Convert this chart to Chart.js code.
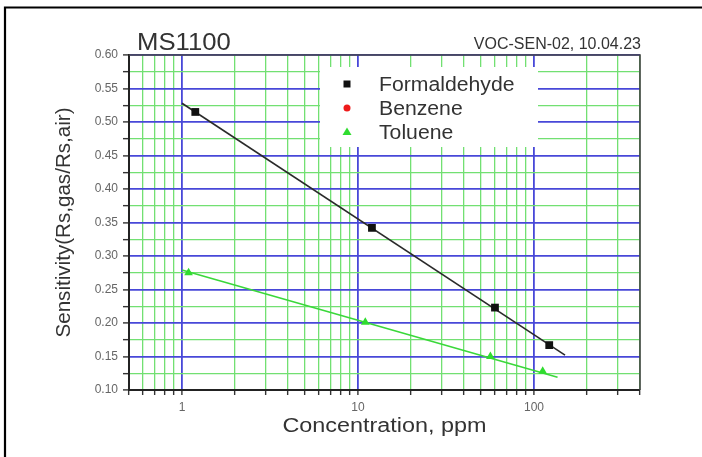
<!DOCTYPE html>
<html>
<head>
<meta charset="utf-8">
<script src="https://cdn.jsdelivr.net/npm/chart.js@4"></script>
<style>
  body { margin: 0; background: #fff; }
  canvas { display: block; }
</style>
</head>
<body>
<canvas id="sensChart" width="702" height="457"></canvas>
<script>
// measured points
const formConc = [1.19, 12.0, 60, 122];
const formSens = [0.515, 0.342, 0.223, 0.167];
const benzConc = [];
const benzSens = [];
const tolConc = [1.09, 11.0, 56.5, 112];
const tolSens = [0.275, 0.201, 0.150, 0.128];

// fitted lines (ends)
const formFitConc = [1, 150];
const formFitSens = [0.528, 0.152];
const tolFitConc = [1, 136];
const tolFitSens = [0.279, 0.119];

const xTickLabels = ["1", "10", "100"];
const yTickLabels = ["0.10", "0.15", "0.20", "0.25", "0.30", "0.35", "0.40", "0.45", "0.50", "0.55", "0.60"];

const X_MIN = 0.5, X_MAX = 400;
const BLUE = "#4848d8";
const GREEN = "#72e072";
const FONT = "'Liberation Sans', Arial, sans-serif";

function pts(xs, ys) {
  return xs.map((x, i) => ({ x: x, y: ys[i] }));
}

function xTickValues() {
  const out = [];
  for (let d = 0.1; d <= 100; d *= 10) {
    for (let m = 1; m <= 9; m++) {
      const v = Math.round(m * d * 1000) / 1000;
      if (v >= X_MIN && v <= X_MAX) out.push(v);
    }
  }
  return out;
}

function yTickValues() {
  const major = yTickLabels.map(Number);
  const out = [];
  major.forEach((v, i) => {
    out.push(v);
    if (i < major.length - 1) out.push((v + major[i + 1]) / 2);
  });
  return out;
}

function isXMajor(v) { return xTickLabels.includes(String(v)); }
function yLabelFor(v) {
  const hit = yTickLabels.find(s => Math.abs(Number(s) - v) < 1e-9);
  return hit || "";
}

const decor = {
  id: "decor",
  afterDatasetsDraw(chart) {
    const ctx = chart.ctx;
    const a = chart.chartArea;
    ctx.save();
    // top + right frame of the plot
    ctx.strokeStyle = "#444";
    ctx.lineWidth = 1.6;
    ctx.beginPath();
    ctx.moveTo(a.left, a.top);
    ctx.lineTo(a.right, a.top);
    ctx.lineTo(a.right, a.bottom);
    ctx.stroke();

    // legend box
    ctx.fillStyle = "#fff";
    ctx.fillRect(320, 67, 218, 80);
    const items = chart.data.datasets.filter(d => !d.fitLine);
    ctx.font = "20px " + FONT;
    ctx.textBaseline = "middle";
    items.forEach((d, i) => {
      const cy = 84 + i * 24;
      const cx = 347;
      ctx.fillStyle = d.backgroundColor;
      ctx.beginPath();
      if (d.pointStyle === "rect") {
        ctx.rect(cx - 3.5, cy - 3.5, 7, 7);
      } else if (d.pointStyle === "circle") {
        ctx.arc(cx, cy, 3.5, 0, Math.PI * 2);
      } else {
        ctx.moveTo(cx, cy - 4.5);
        ctx.lineTo(cx + 4.5, cy + 3);
        ctx.lineTo(cx - 4.5, cy + 3);
        ctx.closePath();
      }
      ctx.fill();
      ctx.fillStyle = "#333";
      ctx.save();
      ctx.translate(379, cy + 1);
      ctx.scale(1.06, 1);
      ctx.fillText(d.label, 0, 0);
      ctx.restore();
    });
    ctx.restore();
  },
  afterDraw(chart) {
    const ctx = chart.ctx;
    const a = chart.chartArea;
    ctx.save();
    // outer frame, top and left only
    ctx.strokeStyle = "#000";
    ctx.lineWidth = 2.2;
    ctx.beginPath();
    ctx.moveTo(702, 7.5);
    ctx.lineTo(5, 7.5);
    ctx.lineTo(5, 457);
    ctx.stroke();

    ctx.fillStyle = "#333";
    ctx.textBaseline = "alphabetic";
    // header
    ctx.font = "24px " + FONT;
    ctx.textAlign = "left";
    ctx.save();
    ctx.translate(137, 50);
    ctx.scale(1.07, 1);
    ctx.fillText("MS1100", 0, 0);
    ctx.restore();
    ctx.font = "16px " + FONT;
    ctx.textAlign = "right";
    ctx.fillText("VOC-SEN-02, 10.04.23", 641, 49);

    // axis titles
    ctx.font = "20px " + FONT;
    ctx.textAlign = "center";
    ctx.save();
    ctx.translate((a.left + a.right) / 2, 432);
    ctx.scale(1.17, 1);
    ctx.fillText("Concentration, ppm", 0, 0);
    ctx.restore();

    ctx.save();
    ctx.translate(64, (a.top + a.bottom) / 2);
    ctx.rotate(-Math.PI / 2);
    ctx.scale(1.03, 1);
    ctx.textBaseline = "middle";
    ctx.fillText("Sensitivity(Rs,gas/Rs,air)", 0, 0);
    ctx.restore();
    ctx.restore();
  }
};

new Chart(document.getElementById("sensChart"), {
  type: "scatter",
  data: {
    datasets: [
      {
        label: "Formaldehyde",
        data: pts(formConc, formSens),
        pointStyle: "rect",
        pointRadius: 5.5,
        backgroundColor: "#111",
        borderColor: "#111",
        borderWidth: 0
      },
      {
        label: "Benzene",
        data: pts(benzConc, benzSens),
        pointStyle: "circle",
        pointRadius: 3.5,
        backgroundColor: "#ee1b1b",
        borderColor: "#ee1b1b"
      },
      {
        label: "Toluene",
        data: pts(tolConc, tolSens),
        pointStyle: "triangle",
        pointRadius: 5,
        backgroundColor: "#2fdc2f",
        borderColor: "#2fdc2f",
        borderWidth: 0
      },
      {
        label: "Formaldehyde fit",
        fitLine: true,
        data: pts(formFitConc, formFitSens),
        showLine: true,
        pointRadius: 0,
        borderColor: "#2a2a2a",
        borderWidth: 1.6
      },
      {
        label: "Toluene fit",
        fitLine: true,
        data: pts(tolFitConc, tolFitSens),
        showLine: true,
        pointRadius: 0,
        borderColor: "#3ad83a",
        borderWidth: 1.6
      }
    ]
  },
  options: {
    responsive: false,
    devicePixelRatio: 1,
    animation: false,
    layout: { padding: { top: 55, right: 62, bottom: 0, left: 0 } },
    plugins: {
      legend: { display: false },
      tooltip: { enabled: false }
    },
    scales: {
      x: {
        type: "logarithmic",
        min: X_MIN,
        max: X_MAX,
        afterBuildTicks: s => { s.ticks = xTickValues().map(v => ({ value: v })); },
        afterFit: s => { s.height = 67; },
        border: { display: true, color: "#222", width: 2 },
        grid: {
          color: c => isXMajor(c.tick.value) ? BLUE : GREEN,
          lineWidth: c => isXMajor(c.tick.value) ? 1.8 : 1.3,
          tickColor: "#333",
          tickLength: 5,
          tickWidth: 1.4
        },
        ticks: {
          autoSkip: false,
          maxRotation: 0,
          padding: 5,
          color: "#666",
          font: { family: FONT, size: 12 },
          callback: v => isXMajor(v) ? String(v) : ""
        }
      },
      y: {
        min: 0.1,
        max: 0.6,
        afterBuildTicks: s => { s.ticks = yTickValues().map(v => ({ value: v })); },
        afterFit: s => { s.width = 129; },
        border: { display: true, color: "#222", width: 2 },
        grid: {
          color: c => yLabelFor(c.tick.value) ? BLUE : GREEN,
          lineWidth: c => yLabelFor(c.tick.value) ? 1.8 : 1.3,
          tickColor: "#333",
          tickLength: 6,
          tickWidth: 1.4
        },
        ticks: {
          autoSkip: false,
          padding: 5,
          color: "#666",
          font: { family: FONT, size: 12 },
          callback: v => yLabelFor(v)
        }
      }
    }
  },
  plugins: [decor]
});
</script>
</body>
</html>
